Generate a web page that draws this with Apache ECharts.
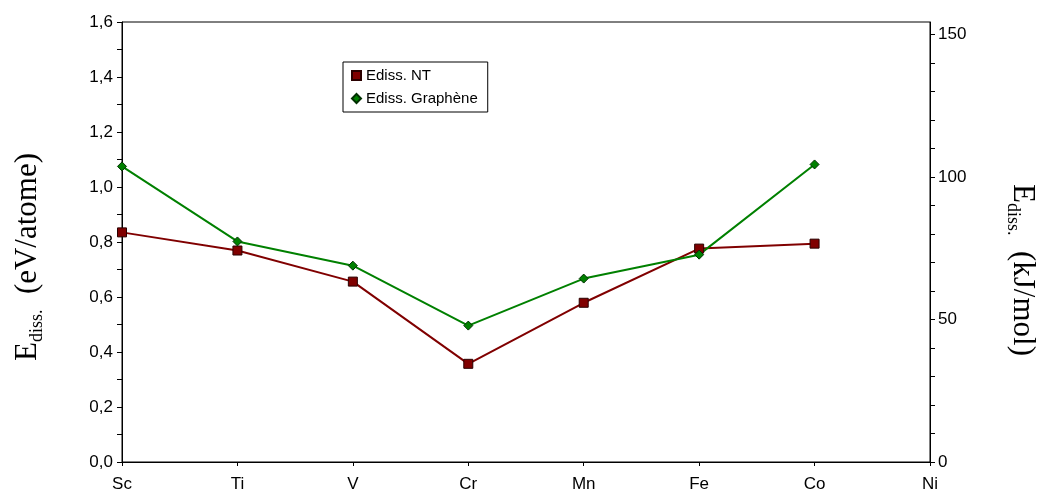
<!DOCTYPE html>
<html>
<head>
<meta charset="utf-8">
<script src="https://cdn.jsdelivr.net/npm/echarts@6/dist/echarts.min.js"></script>
<style>html,body{margin:0;padding:0;background:#fff;overflow:hidden}#c{width:1038px;height:493px}</style>
</head>
<body>
<div id="c"></div>
<script>
const categories = ['Sc', 'Ti', 'V', 'Cr', 'Mn', 'Fe', 'Co', 'Ni'];
const ediss_NT = [0.835, 0.769, 0.656, 0.357, 0.579, 0.776, 0.794, null];
const ediss_Graphene = [1.075, 0.802, 0.714, 0.496, 0.667, 0.754, 1.082, null];
const rightLabels = [0, 50, 100, 150];
const rightTicks = [0, 10, 20, 30, 40, 50, 60, 70, 80, 90, 100, 110, 120, 130, 140, 150];
const EV_TO_KJMOL = 96.485;

const chart = echarts.init(document.getElementById('c'), null, {renderer: 'canvas', width: 1038, height: 493});
const sans = 'Liberation Sans, Arial, sans-serif';
const serif = 'Liberation Serif, Times New Roman, serif';
function nameRich() {
  return {
    a: {fontFamily: serif, fontSize: 31, color: '#000', lineHeight: 36},
    s: {fontFamily: serif, fontSize: 18, color: '#000', lineHeight: 30, verticalAlign: 'bottom'}
  };
}
chart.setOption({
  animation: false,
  backgroundColor: '#fff',
  grid: {left: 122, right: 108, top: 22, bottom: 31, show: true, borderColor: '#000', borderWidth: 1,
    containLabel: false, outerBoundsMode: 'none'},
  legend: {
    orient: 'vertical', left: 343, top: 62,
    backgroundColor: '#fff', borderColor: '#000', borderWidth: 1,
    padding: [6, 10, 6, 8], itemGap: 8,
    itemWidth: 9, itemHeight: 9,
    textStyle: {fontFamily: sans, fontSize: 15, color: '#000'},
    data: [
      {name: 'Ediss. NT', icon: 'rect'},
      {name: 'Ediss. Graphène', icon: 'diamond'}
    ]
  },
  xAxis: {
    type: 'category', data: categories, boundaryGap: false,
    axisLine: {lineStyle: {color: '#000', width: 1}},
    axisTick: {show: true, length: 4, inside: false, lineStyle: {color: '#000'}},
    axisLabel: {fontFamily: sans, fontSize: 17, color: '#000', margin: 14},
    splitLine: {show: false}
  },
  yAxis: [
    {
      type: 'value', min: 0, max: 1.6, interval: 0.2, position: 'left',
      axisLine: {show: true, lineStyle: {color: '#000', width: 1}},
      axisTick: {show: true, length: 5, lineStyle: {color: '#000'}},
      minorTick: {show: true, splitNumber: 2, length: 5, lineStyle: {color: '#000'}},
      axisLabel: {fontFamily: sans, fontSize: 17, color: '#000', margin: 9,
        formatter: v => v.toFixed(1).replace('.', ',')},
      splitLine: {show: false},
      name: '{a|E}{s|diss.}{a|  (eV/atome)}',
      nameLocation: 'middle', nameRotate: 90, nameGap: 76,
      nameTextStyle: {rich: nameRich(), padding: [0, 30, 0, 0]}
    },
    {
      type: 'value', min: 0, max: 1.6 * EV_TO_KJMOL, position: 'right',
      axisLine: {show: true, lineStyle: {color: '#000', width: 1}},
      axisTick: {show: true, length: 5, customValues: rightTicks, lineStyle: {color: '#000'}},
      axisLabel: {fontFamily: sans, fontSize: 17, color: '#000', margin: 8, customValues: rightLabels},
      splitLine: {show: false},
      name: '{a|E}{s|diss.}{a|  (kJ/mol)}',
      nameLocation: 'middle', nameRotate: -90, nameGap: 74,
      nameTextStyle: {rich: nameRich(), padding: [0, 0, 0, 56]}
    }
  ],
  series: [
    {
      name: 'Ediss. NT', type: 'line', data: ediss_NT, yAxisIndex: 0,
      symbol: 'rect', symbolSize: 9,
      lineStyle: {color: '#800000', width: 2},
      itemStyle: {color: '#800000', borderColor: '#2a0000', borderWidth: 1}
    },
    {
      name: 'Ediss. Graphène', type: 'line', data: ediss_Graphene, yAxisIndex: 0,
      symbol: 'diamond', symbolSize: 9,
      lineStyle: {color: '#008000', width: 2},
      itemStyle: {color: '#008000', borderColor: '#003000', borderWidth: 1}
    }
  ]
});
</script>
</body>
</html>
